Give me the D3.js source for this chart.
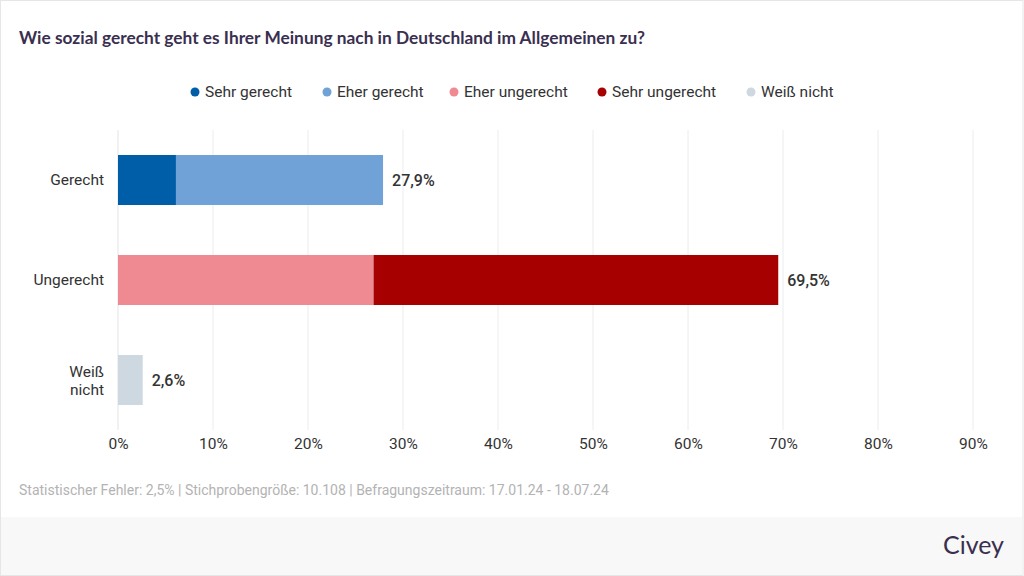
<!DOCTYPE html>
<html><head><meta charset="utf-8">
<script src="https://cdn.jsdelivr.net/npm/d3@7"></script>
<style>body{margin:0;background:#fff}svg{display:block}</style>
</head><body>
<svg id="c" width="1024" height="576"></svg>
<script>
const categories = ["Gerecht", "Ungerecht", "Weiß nicht"];
const seriesNames = ["Sehr gerecht", "Eher gerecht", "Eher ungerecht", "Sehr ungerecht", "Weiß nicht"];
const seriesColors = ["#005ea8", "#70a2d8", "#f08a92", "#a60000", "#cdd8e0"];
const sehrGerecht   = [6.1, 0, 0];
const eherGerecht   = [21.8, 0, 0];
const eherUngerecht = [0, 26.9, 0];
const sehrUngerecht = [0, 42.6, 0];
const weissNicht    = [0, 0, 2.6];
const totals = ["27,9%", "69,5%", "2,6%"];
const xTicks = [0,10,20,30,40,50,60,70,80,90];

const svg = d3.select("#c");
const W = 1024, H = 576;
// frame
svg.append("rect").attr("x",0.5).attr("y",0.5).attr("width",W-1.5).attr("height",H-1).attr("fill","#fff").attr("stroke","#e6e6e6");
svg.append("rect").attr("x",1).attr("y",517).attr("width",W-3).attr("height",58).attr("fill","#f8f8f8");

svg.append("text").attr("x",19).attr("y",44).text("Wie sozial gerecht geht es Ihrer Meinung nach in Deutschland im Allgemeinen zu?")
  .attr("font-family","Lato").attr("font-weight",700).attr("font-size",16.5).attr("fill","#3a2f4f")
  .attr("textLength",626).attr("lengthAdjust","spacingAndGlyphs");

const x = d3.scaleLinear().domain([0,90]).range([118,973]);
const y = d3.scaleBand().domain(categories).range([130,430]).paddingInner(0.5).paddingOuter(0.25);

// grid
svg.append("g").selectAll("line").data(xTicks).join("line")
  .attr("x1",d=>x(d)).attr("x2",d=>x(d)).attr("y1",130).attr("y2",430)
  .attr("stroke",(d)=>d===0?"#e3e3e3":"#ececec").attr("stroke-width",1);

// axis
const ax = svg.append("g").attr("transform","translate(0,430)")
  .call(d3.axisBottom(x).tickValues(xTicks).tickFormat(d=>d+"%").tickSize(0).tickPadding(8));
ax.select(".domain").remove();
ax.selectAll("text").attr("font-family","Roboto").attr("font-size",15.5).attr("fill","#333");

// stacks
const series = [sehrGerecht, eherGerecht, eherUngerecht, sehrUngerecht, weissNicht];
const rows = categories.map((c,i)=>{const o={cat:c}; seriesNames.forEach((s,j)=>o[s]=series[j][i]); return o;});
const stack = d3.stack().keys(seriesNames)(rows);
svg.append("g").selectAll("g").data(stack).join("g").attr("fill",(d,i)=>seriesColors[i])
  .selectAll("rect").data(d=>d.filter(e=>e[1]-e[0]>0)).join("rect")
  .attr("x",d=>x(d[0])).attr("width",d=>x(d[1])-x(d[0]))
  .attr("y",d=>y(d.data.cat)).attr("height",y.bandwidth());

// totals
svg.append("g").selectAll("text").data(categories).join("text")
  .attr("x",(c,i)=>x(d3.sum(series,s=>s[i]))+9).attr("y",c=>y(c)+y.bandwidth()/2).attr("dy","0.35em")
  .text((c,i)=>totals[i]).attr("font-family","Roboto").attr("font-weight",500).attr("font-size",16).attr("fill","#333");

// category labels
const cl = svg.append("g").selectAll("text").data(categories).join("text")
  .attr("text-anchor","end").attr("x",104).attr("y",c=>y(c)+y.bandwidth()/2)
  .attr("font-family","Roboto").attr("font-size",15.5).attr("fill","#333");
cl.each(function(c){
  const t=d3.select(this);
  if(c==="Weiß nicht"){
    t.append("tspan").attr("x",104).attr("dy","-0.2em").text("Weiß");
    t.append("tspan").attr("x",104).attr("dy","1.15em").text("nicht");
  } else t.attr("dy","0.35em").text(c);
});

// legend
const legX = [195, 327, 454, 602, 751];
const lg = svg.append("g").selectAll("g").data(seriesNames).join("g").attr("transform",(d,i)=>`translate(${legX[i]},92)`);
lg.append("circle").attr("r",4.5).attr("fill",(d,i)=>seriesColors[i]);
lg.append("text").attr("x",10).attr("dy","0.35em").text(d=>d).attr("font-family","Roboto").attr("font-size",15.5).attr("fill","#333");

svg.append("text").attr("x",19).attr("y",495).text("Statistischer Fehler: 2,5% | Stichprobengröße: 10.108 | Befragungszeitraum: 17.01.24 - 18.07.24")
  .attr("font-family","Roboto").attr("font-size",14).attr("fill","#b3b3b3");

svg.append("text").attr("x",1004).attr("y",554).attr("text-anchor","end").text("Civey")
  .attr("font-family","Lato").attr("font-size",25).attr("fill","#3a2f4f");
</script>
</body></html>
